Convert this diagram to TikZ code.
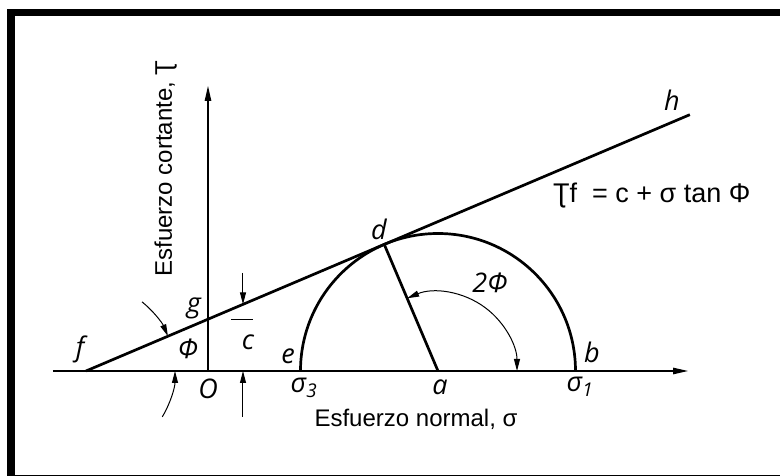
\documentclass[tikz,border=0pt]{standalone}
\usepackage{fontspec}
\setmainfont{Liberation Sans}
\newfontfamily\lblfont{Open Sans}
\usepackage{tikz}
\usetikzlibrary{arrows.meta,calc}
\usepackage{xcolor}
\definecolor{inkblack}{HTML}{000000}
\tikzset{
  axisline/.style={line width=1.1pt, draw=inkblack, -{Triangle[length=15pt,width=6.5pt]}},
  heavy/.style={line width=2.7pt, draw=inkblack},
  thinline/.style={line width=1pt, draw=inkblack},
  tipend/.style={-{Triangle[length=12pt,width=6pt]}},
  tipboth/.style={{Triangle[length=12pt,width=6pt]}-{Triangle[length=12pt,width=6pt]}},
  lbl/.style={font=\lblfont\itshape\fontsize{27}{27}\selectfont, inner sep=0pt},
  axislabel/.style={font=\fontsize{24}{24}\selectfont, inner sep=0pt}
}

\begin{document}
\begin{tikzpicture}[x=1pt,y=1pt]
  \useasboundingbox (-208,-105) rectangle (572,371);
  \clip (-208,-105) rectangle (572,371);
  % frame
  \draw[line width=7.5pt] (-197,358.5) rectangle (582,-108);
  % points
  \coordinate (O) at (0,0);
  \coordinate (xstart) at (-155,0);
  \coordinate (xend) at (480,0);
  \coordinate (ytop) at (0,285);
  \coordinate (f) at (-122,0);
  \coordinate (h) at ($(f)+(23:656)$);
  \coordinate (a) at (230,0);
  \coordinate (s3) at (92.5,0);
  \coordinate (s1) at (367.5,0);
  \coordinate (d) at ($(a)+(113:137.5)$);
  \coordinate (g) at (0,{122*tan(23)});
  \coordinate (ctop) at (35,98);
  \coordinate (cline) at (35,{157*tan(23)});
  \coordinate (cbot) at (35,-46);
  \coordinate (cfoot) at (35,0);
  % axes
  \draw[axisline] (xstart) -- (xend);
  \draw[axisline] (O) -- (ytop);
  % envelope, circle, radius
  \draw[heavy] (f) -- (h);
  \draw[heavy] (s3) arc (180:0:137.5);
  \draw[heavy] (a) -- (d);
  % c dimension
  \draw[thinline, tipend] (ctop) -- (cline);
  \draw[thinline, tipend] (cbot) -- (cfoot);
  \draw[thinline] ($(g)+(23,0)$) -- ($(g)+(45,0)$);
  % angle arcs
  \draw[thinline, tipend] ($(f)+(51:89)$) arc (51:23:89);
  \draw[thinline, tipend] ($(f)+(-31:89)$) arc (-31:0:89);
  \draw[thinline, tipboth] ($(a)+(113:79)$) arc (113:0:79);
  % labels
  \foreach \n/\x/\y/\t in {h/464/271/h, f/-128/22/f, g/-14/63/g, phi/-20/22/Φ,
      O/0/-18/O, c/40/29/c, e/80/15/e, s3/96/-17/σ\textsubscript{3},
      a/232/-16/a, s1/372/-16/σ\textsubscript{1}, b/384/19/b, d/171/142/d,
      twophi/282/88/2Φ} {
    \node[lbl] (lbl-\n) at (\x,\y) {\t};
  }
  \node[axislabel, anchor=base] (xlabel) at (208,-56) {Esfuerzo normal, σ};
  \node[axislabel, anchor=base, rotate=90] (ylabel) at (-36,202.5) {Esfuerzo cortante, Ʈ};
  \node[axislabel, anchor=base west, font=\fontsize{27}{27}\selectfont] (law) at (345,168) {Ʈf\ \ = c + σ tan Φ};
\end{tikzpicture}
\end{document}
